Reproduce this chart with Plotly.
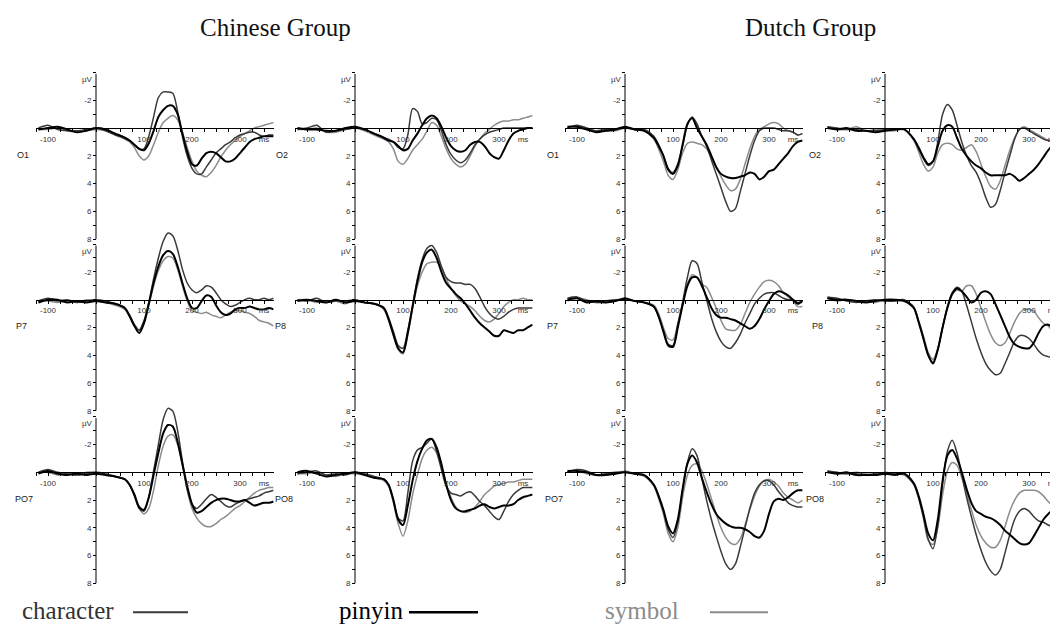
import plotly.graph_objects as go

# ---------------- data (µV, positive = downward, as in the reference) ----------------
times = [-120, -100, -80, -60, -40, -20, 0, 20, 40,
         60, 70, 80, 90, 100, 110, 120, 130, 140, 150,
         160, 170, 180, 190, 200, 210, 220, 230, 240, 250,
         260, 270, 280, 290, 300, 310, 320, 330, 340, 350,
         360, 370]

x_tick_vals = [-125, -100, -75, -50, -25, 0, 25, 50, 75, 100, 125, 150, 175, 200,
               225, 250, 275, 300, 325, 350]
x_tick_text = ["", "-100", "", "", "", "", "", "", "", "100", "", "", "", "200",
               "", "", "", "300", "", "ms"]
y_tick_vals = [-4, -3, -2, -1, 0, 1, 2, 3, 4, 5, 6, 7, 8]
y_tick_text = ["", "", "-2", "", "", "", "2", "", "4", "", "6", "", "8"]
y_unit_label = "µV"

conditions = ["character", "pinyin", "symbol"]
group_titles = ["Chinese Group", "Dutch Group"]
electrodes = [["O1", "O2", "O1", "O2"],
              ["P7", "P8", "P7", "P8"],
              ["PO7", "PO8", "PO7", "PO8"]]

# Chinese O1
cn_o1_character = [0.0, -0.2, 0.1, 0.2, 0.2, 0.1, 0.0, 0.2, 0.5,
                   0.7, 0.9, 1.2, 1.5, 1.5, 0.6, -0.8, -2.2, -2.6, -2.6,
                   -2.5, -1.2, 0.6, 2.0, 2.9, 3.3, 3.3, 2.8, 2.3, 1.8,
                   1.5, 1.2, 1.0, 0.7, 0.5, 0.4, 0.3, 0.3, 0.5, 0.6,
                   0.5, 0.5]
cn_o1_pinyin = [0.1, 0.0, -0.1, 0.1, 0.3, 0.2, 0.0, 0.1, 0.4,
                0.7, 0.9, 1.2, 1.5, 1.6, 1.1, 0.2, -0.8, -1.3, -1.6,
                -1.6, -1.0, 0.4, 1.7, 2.6, 2.7, 2.2, 1.8, 1.7, 1.8,
                2.1, 2.4, 2.4, 2.2, 1.8, 1.4, 1.0, 0.8, 0.7, 0.6,
                0.6, 0.6]
cn_o1_symbol = [0.1, 0.1, 0.0, 0.2, 0.3, 0.2, 0.1, 0.2, 0.5,
                0.8, 1.0, 1.4, 2.0, 2.3, 2.0, 1.2, 0.3, -0.4, -0.7,
                -0.9, -0.6, 0.3, 1.4, 2.4, 3.1, 3.4, 3.5, 3.2, 2.7,
                2.1, 1.6, 1.2, 0.9, 0.6, 0.4, 0.2, 0.0, -0.1, -0.2,
                -0.3, -0.4]
# Chinese O2
cn_o2_character = [0.1, 0.0, -0.2, 0.3, 0.2, 0.1, 0.0, 0.1, 0.4,
                   0.7, 0.8, 1.0, 1.4, 1.5, 0.5, -1.4, -1.2, -0.3, -0.4,
                   -0.7, -0.6, 0.2, 1.2, 1.9, 2.3, 2.5, 2.3, 1.8, 1.2,
                   0.8, 0.5, 0.3, 0.2, 0.1, 0.0, 0.0, 0.0, 0.0, 0.0,
                   0.0, 0.0]
cn_o2_pinyin = [0.0, 0.1, 0.1, 0.2, 0.2, 0.0, -0.1, 0.1, 0.4,
                0.7, 0.9, 1.0, 1.3, 1.6, 1.5, 0.9, 0.4, -0.2, -0.7,
                -0.9, -0.7, -0.1, 0.7, 1.3, 1.6, 1.7, 1.6, 1.2, 1.0,
                1.0, 1.3, 1.8, 2.1, 2.2, 1.6, 0.9, 0.4, 0.2, 0.1,
                0.0, 0.0]
cn_o2_symbol = [0.1, 0.1, 0.0, 0.3, 0.3, 0.1, 0.0, 0.2, 0.5,
                0.8, 1.0, 1.5, 2.4, 2.6, 2.2, 1.6, 1.2, 0.8, 0.2,
                -0.4, -0.2, 0.6, 1.5, 2.2, 2.6, 2.8, 2.6, 2.0, 1.3,
                0.8, 0.4, 0.1, -0.2, -0.4, -0.5, -0.5, -0.6, -0.6, -0.7,
                -0.8, -0.9]
# Dutch O1
nl_o1_character = [0.0, -0.2, 0.0, 0.2, 0.1, 0.1, 0.0, 0.1, 0.1,
                   0.6, 1.2, 2.0, 2.9, 3.2, 2.6, 1.3, -0.2, -0.8, -0.3,
                   0.6, 1.3, 2.3, 3.3, 4.3, 5.3, 6.0, 5.8, 4.6, 3.3,
                   2.0, 0.9, 0.2, 0.0, 0.0, 0.0, 0.1, 0.2, 0.2, 0.3,
                   0.5, 0.4]
nl_o1_pinyin = [-0.1, -0.1, 0.1, 0.3, 0.2, 0.1, -0.1, 0.1, 0.2,
                0.7, 1.3, 2.0, 3.0, 3.3, 2.7, 1.2, -0.3, -0.7, 0.0,
                0.6, 1.2, 2.0, 2.8, 3.3, 3.5, 3.6, 3.6, 3.5, 3.4,
                3.2, 3.3, 3.7, 3.5, 3.1, 3.0, 2.6, 2.2, 1.8, 1.3,
                1.0, 0.9]
nl_o1_symbol = [0.0, 0.0, 0.1, 0.2, 0.2, 0.2, 0.0, 0.1, 0.2,
                0.8, 1.5, 2.4, 3.4, 3.7, 3.0, 1.8, 1.1, 1.0, 1.1,
                1.2, 1.5, 2.1, 2.8, 3.5, 4.1, 4.5, 4.4, 3.7, 2.6,
                1.5, 0.6, 0.1, -0.1, -0.3, -0.4, -0.3, 0.0, 0.2, 0.3,
                0.5, 0.4]
# Dutch O2
nl_o2_character = [-0.1, 0.0, 0.1, 0.1, 0.2, 0.2, 0.1, 0.1, 0.1,
                   0.8, 1.5, 2.2, 2.7, 2.4, 1.0, -1.0, -1.7, -1.3, -0.2,
                   1.0, 2.0, 2.7, 3.2, 4.0, 5.0, 5.7, 5.5, 4.5, 3.2,
                   2.0, 0.8, 0.1, 0.0, 0.2, 0.4, 0.6, 0.8, 0.9, 0.9,
                   0.8, 0.7]
nl_o2_pinyin = [0.0, 0.1, 0.0, 0.2, 0.2, 0.3, 0.2, 0.1, 0.1,
                0.8, 1.4, 2.1, 2.6, 2.4, 1.3, 0.2, -0.2, -0.1, 0.7,
                1.5, 2.0, 2.4, 2.7, 2.9, 3.2, 3.4, 3.4, 3.4, 3.4,
                3.3, 3.5, 3.8, 3.6, 3.3, 3.0, 2.6, 2.1, 1.6, 1.2,
                1.0, 0.9]
nl_o2_symbol = [-0.1, 0.1, 0.1, -0.1, 0.2, 0.1, 0.2, 0.2, 0.1,
                0.9, 1.7, 2.6, 3.1, 2.8, 1.8, 1.2, 1.1, 1.2, 1.5,
                1.6, 1.4, 1.2, 1.7, 2.6, 3.5, 4.2, 4.4, 3.8, 2.7,
                1.6, 0.7, 0.1, -0.1, 0.1, 0.3, 0.5, 0.7, 0.9, 1.0,
                0.9, 0.7]
# Chinese P7
cn_p7_character = [0.1, -0.1, 0.1, 0.0, 0.2, 0.1, 0.0, 0.1, 0.3,
                   0.6, 1.1, 1.8, 2.2, 1.5, 0.2, -1.5, -3.0, -4.2, -4.8,
                   -4.6, -3.6, -2.2, -1.2, -0.7, -0.5, -0.7, -1.0, -0.9, -0.5,
                   0.0, 0.3, 0.5, 0.4, 0.2, 0.0, -0.1, 0.0, 0.0, -0.1,
                   0.0, -0.1]
cn_p7_pinyin = [0.2, 0.0, 0.0, 0.2, 0.1, 0.2, 0.1, 0.2, 0.3,
                0.6, 1.2, 1.9, 2.4, 1.7, 0.3, -1.2, -2.4, -3.2, -3.5,
                -3.3, -2.4, -1.2, -0.1, 0.6, 0.6, 0.1, -0.3, -0.2, 0.4,
                0.9, 1.1, 1.0, 0.7, 0.6, 0.6, 0.5, 0.6, 0.7, 0.7,
                0.6, 0.7]
cn_p7_symbol = [0.1, 0.1, 0.2, 0.1, 0.2, 0.0, 0.1, 0.2, 0.4,
                0.7, 1.2, 1.8, 2.2, 1.6, 0.4, -1.0, -2.1, -2.8, -3.1,
                -3.0, -2.2, -1.0, 0.1, 0.8, 0.9, 1.0, 0.9, 1.1, 1.2,
                1.3, 1.1, 0.9, 0.8, 0.8, 0.9, 1.0, 1.2, 1.5, 1.6,
                1.7, 1.9]
# Chinese P8
cn_p8_character = [0.0, 0.1, -0.1, 0.2, 0.1, 0.1, 0.0, 0.2, 0.3,
                   0.6, 1.3, 2.3, 3.3, 3.5, 2.2, 0.4, -1.5, -2.9, -3.7,
                   -3.9, -3.4, -2.4, -1.6, -1.3, -1.2, -1.2, -1.1, -1.1, -0.8,
                   -0.2, 0.5, 1.0, 1.3, 1.4, 1.2, 0.9, 0.7, 0.6, 0.6,
                   0.6, 0.6]
cn_p8_pinyin = [0.1, 0.0, 0.1, 0.2, 0.0, 0.2, 0.1, 0.2, 0.3,
                0.6, 1.4, 2.5, 3.5, 3.8, 2.4, 0.5, -1.3, -2.7, -3.4,
                -3.6, -3.0, -2.0, -1.2, -0.8, -0.4, -0.1, 0.3, 0.8, 1.3,
                1.7, 2.0, 2.3, 2.6, 2.6, 2.2, 2.3, 2.4, 2.2, 2.2,
                2.0, 1.8]
cn_p8_symbol = [0.0, 0.0, 0.2, 0.1, 0.1, 0.3, 0.0, 0.2, 0.3,
                0.7, 1.5, 2.6, 3.6, 3.9, 2.5, 0.6, -1.0, -2.0, -2.6,
                -2.7, -2.7, -2.3, -1.5, -0.8, -0.3, 0.1, 0.3, 0.5, 0.8,
                1.2, 1.5, 1.6, 1.4, 1.0, 0.5, 0.2, 0.0, 0.0, -0.1,
                0.0, 0.0]
# Dutch P7
nl_p7_character = [-0.1, -0.2, 0.1, 0.2, 0.1, 0.0, 0.0, 0.1, 0.2,
                   0.5, 1.2, 2.2, 3.2, 3.3, 1.8, 0.2, -1.6, -2.8, -2.6,
                   -1.3, 0.0, 1.3, 2.3, 3.0, 3.4, 3.5, 3.1, 2.5, 1.7,
                   1.0, 0.3, -0.1, -0.4, -0.5, -0.5, -0.3, -0.1, 0.0, 0.0,
                   0.2, 0.1]
nl_p7_pinyin = [0.0, -0.1, 0.2, 0.1, 0.2, 0.1, -0.1, 0.1, 0.2,
                0.5, 1.2, 2.3, 3.3, 3.4, 2.0, 0.4, -1.0, -1.6, -1.6,
                -1.0, -0.2, 0.6, 1.1, 1.3, 1.3, 1.4, 1.5, 1.7, 1.9,
                2.1, 1.9, 1.4, 0.7, 0.1, -0.4, -0.6, -0.5, -0.3, 0.0,
                0.3, 0.1]
nl_p7_symbol = [0.1, -0.1, 0.0, 0.2, 0.2, 0.1, 0.0, 0.1, 0.2,
                0.4, 1.0, 2.0, 2.8, 2.9, 1.7, 0.3, -1.1, -1.8, -1.6,
                -1.1, -0.9, -0.2, 0.6, 1.5, 2.1, 2.2, 2.2, 1.8, 1.0,
                0.2, -0.4, -0.9, -1.3, -1.4, -1.3, -1.0, -0.5, -0.2, 0.1,
                0.5, 0.5]
# Dutch P8
nl_p8_character = [-0.2, -0.1, 0.1, 0.2, 0.1, 0.0, 0.1, 0.1, 0.0,
                   0.6, 1.6, 2.8, 4.0, 4.5, 3.6, 2.0, 0.5, -0.5, -0.9,
                   -0.6, 0.4, 1.6, 2.8, 3.8, 4.6, 5.1, 5.4, 5.3, 4.6,
                   3.8, 3.0, 2.6, 2.6, 2.8, 3.2, 3.7, 4.0, 4.1, 4.2,
                   4.4, 4.5]
nl_p8_pinyin = [-0.1, 0.0, 0.0, 0.1, 0.2, 0.1, 0.0, 0.0, 0.1,
                0.6, 1.6, 2.8, 4.0, 4.6, 3.6, 2.0, 0.6, -0.4, -0.8,
                -0.6, -0.2, 0.2, 0.0, -0.5, -0.6, -0.4, 0.3, 1.1, 1.9,
                2.7, 3.2, 3.4, 3.5, 3.5, 3.1, 2.4, 1.9, 1.8, 2.0,
                2.2, 2.2]
nl_p8_symbol = [-0.1, 0.1, 0.0, 0.1, 0.1, 0.2, 0.0, 0.1, 0.1,
                0.5, 1.5, 2.6, 3.8, 4.3, 3.5, 2.0, 0.5, -0.4, -0.7,
                -0.6, -1.0, -1.0, -0.4, 0.6, 1.6, 2.5, 3.1, 3.3, 3.1,
                2.4, 1.6, 1.0, 0.7, 0.7, 0.8, 1.3, 1.7, 1.9, 2.3,
                2.5, 2.6]
# Chinese PO7
cn_po7_character = [0.0, -0.2, 0.0, 0.1, 0.2, 0.1, 0.0, 0.1, 0.3,
                    0.5, 0.9, 1.7, 2.6, 2.8, 1.8, -0.1, -2.0, -3.8, -4.6,
                    -4.4, -3.0, -0.8, 1.2, 2.3, 2.6, 2.3, 1.9, 1.6, 1.8,
                    2.1, 2.4, 2.5, 2.3, 2.1, 2.0, 1.9, 1.8, 1.7, 1.5,
                    1.4, 1.3]
cn_po7_pinyin = [0.1, -0.1, 0.1, 0.2, 0.1, 0.2, 0.1, 0.2, 0.3,
                 0.5, 0.9, 1.6, 2.5, 2.7, 1.8, 0.2, -1.4, -2.8, -3.4,
                 -3.3, -2.2, -0.6, 1.0, 2.3, 2.9, 2.8, 2.5, 2.2, 2.0,
                 1.9, 1.9, 2.0, 2.1, 2.1, 2.0, 2.2, 2.4, 2.3, 2.2,
                 2.2, 2.1]
cn_po7_symbol = [0.0, 0.0, 0.2, 0.1, 0.2, 0.0, 0.0, 0.2, 0.3,
                 0.5, 0.9, 1.7, 2.6, 3.0, 2.6, 1.3, -0.5, -1.9, -2.6,
                 -2.7, -2.0, -0.5, 1.3, 2.6, 3.3, 3.7, 3.9, 3.9, 3.7,
                 3.4, 3.2, 2.9, 2.6, 2.4, 2.1, 1.8, 1.5, 1.3, 1.2,
                 1.1, 1.1]
# Chinese PO8
cn_po8_character = [0.1, 0.0, -0.1, 0.2, 0.1, 0.2, 0.0, 0.1, 0.3,
                    0.5, 0.9, 2.0, 3.3, 3.5, 1.5, -0.8, -1.6, -1.8, -2.1,
                    -2.4, -1.5, -0.2, 1.0, 1.5, 1.6, 1.7, 1.5, 1.4, 1.7,
                    2.1, 2.4, 2.8, 3.2, 3.4, 2.8, 2.1, 1.6, 1.3, 1.1,
                    1.1, 1.1]
cn_po8_pinyin = [0.0, -0.1, 0.1, 0.3, 0.2, 0.1, 0.0, 0.2, 0.4,
                 0.5, 0.9, 2.0, 3.4, 3.8, 2.4, 0.6, -0.8, -1.7, -2.3,
                 -2.4, -1.8, -0.6, 0.9, 2.0, 2.6, 2.8, 2.8, 2.7, 2.6,
                 2.4, 2.3, 2.5, 2.6, 2.5, 2.4, 2.4, 2.3, 2.0, 1.8,
                 1.7, 1.6]
cn_po8_symbol = [0.1, 0.1, 0.0, 0.2, 0.3, 0.1, 0.1, 0.2, 0.4,
                 0.6, 1.0, 2.2, 3.7, 4.6, 3.5, 1.6, 0.2, -1.0, -1.6,
                 -1.8, -1.4, -0.4, 0.8, 1.8, 2.5, 2.8, 2.9, 2.8, 2.5,
                 2.1, 1.6, 1.3, 1.0, 0.9, 0.8, 0.7, 0.7, 0.6, 0.5,
                 0.5, 0.5]
# Dutch PO7
nl_po7_character = [0.0, -0.2, -0.1, 0.2, 0.1, 0.0, 0.0, 0.1, 0.2,
                    0.9, 1.7, 2.8, 4.1, 4.7, 3.6, 1.3, -0.7, -1.7, -1.2,
                    0.4, 2.0, 3.4, 4.6, 5.7, 6.6, 7.0, 6.6, 5.4, 4.0,
                    2.6, 1.5, 0.9, 0.6, 0.6, 0.9, 1.4, 1.8, 2.2, 2.4,
                    2.5, 2.5]
nl_po7_pinyin = [-0.1, -0.1, 0.0, 0.2, 0.2, 0.1, 0.0, 0.1, 0.2,
                 0.9, 1.7, 2.7, 3.9, 4.4, 3.4, 1.2, -0.6, -1.2, -0.7,
                 0.4, 1.4, 2.3, 3.0, 3.4, 3.7, 3.9, 4.0, 4.0, 4.1,
                 4.3, 4.6, 4.7, 4.2, 3.0, 2.1, 1.9, 2.0, 1.8, 1.5,
                 1.3, 1.3]
nl_po7_symbol = [0.0, -0.1, 0.1, 0.2, 0.1, 0.1, -0.1, 0.1, 0.3,
                 1.0, 1.9, 3.0, 4.4, 5.0, 4.0, 1.8, 0.2, -0.5, -0.6,
                 -0.1, 0.8, 1.9, 3.0, 4.0, 4.7, 5.1, 5.2, 4.8, 3.8,
                 2.7, 1.7, 1.0, 0.6, 0.5, 0.7, 1.0, 1.5, 1.8, 2.0,
                 2.2, 2.0]
# Dutch PO8
nl_po8_character = [-0.1, 0.0, 0.1, 0.1, 0.2, 0.1, 0.1, 0.1, 0.1,
                    0.8, 1.8, 3.2, 4.8, 5.5, 3.8, 0.8, -1.5, -2.3, -1.4,
                    0.2, 1.8, 3.2, 4.5, 5.6, 6.5, 7.1, 7.4, 7.0, 5.8,
                    4.5, 3.4, 2.8, 2.6, 2.8, 3.2, 3.5, 3.6, 3.8, 3.9,
                    3.8, 3.7]
nl_po8_pinyin = [0.0, 0.1, 0.0, 0.2, 0.2, 0.2, 0.1, 0.2, 0.1,
                 0.8, 1.7, 3.0, 4.4, 4.9, 3.4, 0.6, -1.2, -1.6, -1.0,
                 0.0, 1.2, 2.2, 2.8, 3.0, 3.2, 3.3, 3.5, 3.8, 4.2,
                 4.5, 4.8, 5.1, 5.2, 5.1, 4.6, 4.0, 3.4, 3.0, 2.7,
                 2.5, 2.3]
nl_po8_symbol = [-0.1, 0.1, 0.1, 0.0, 0.1, 0.2, 0.0, 0.1, 0.2,
                 0.9, 1.9, 3.3, 4.9, 5.2, 4.0, 1.6, -0.1, -0.7, -0.5,
                 0.4, 1.5, 2.7, 3.8, 4.6, 5.1, 5.4, 5.4, 4.9, 3.9,
                 2.8, 2.0, 1.5, 1.3, 1.3, 1.3, 1.4, 1.7, 2.1, 2.4,
                 2.6, 2.6]

panel_data = [
    [(cn_o1_character, cn_o1_pinyin, cn_o1_symbol), (cn_o2_character, cn_o2_pinyin, cn_o2_symbol),
     (nl_o1_character, nl_o1_pinyin, nl_o1_symbol), (nl_o2_character, nl_o2_pinyin, nl_o2_symbol)],
    [(cn_p7_character, cn_p7_pinyin, cn_p7_symbol), (cn_p8_character, cn_p8_pinyin, cn_p8_symbol),
     (nl_p7_character, nl_p7_pinyin, nl_p7_symbol), (nl_p8_character, nl_p8_pinyin, nl_p8_symbol)],
    [(cn_po7_character, cn_po7_pinyin, cn_po7_symbol), (cn_po8_character, cn_po8_pinyin, cn_po8_symbol),
     (nl_po7_character, nl_po7_pinyin, nl_po7_symbol), (nl_po8_character, nl_po8_pinyin, nl_po8_symbol)],
]

for row in panel_data:
    for trio in row:
        for s in trio:
            assert len(s) == len(times), (len(s), len(times))

# ---------------- layout geometry (pixels) ----------------
W, H = 1058, 628
X0_PIX = [88, 347, 617, 877]       # pixel x of t = 0 ms for each column
Z0_PIX = [121, 294, 468]           # pixel y of 0 µV for each row
PX_PER_MS = 0.48
PX_PER_UV = 14.0
X_RANGE = [-125, 370]
Y_RANGE = [8, -5.6]
Y_AXIS_TOP = -3.9

styles = {
    "character": dict(color="#3a3a3a", width=1.5),
    "pinyin": dict(color="#000000", width=2.0),
    "symbol": dict(color="#8c8c8c", width=1.5),
}
draw_order = [2, 0, 1]  # symbol, character, pinyin (black on top)

label_x_pix = [[15, 274, 545, 807], [13, 272, 544, 809], [16, 276, 546, 807]]

FONT = "Liberation Sans, Arial, sans-serif"
SERIF = "Liberation Serif, Times New Roman, serif"

fig = go.Figure()
layout = dict(width=W, height=H, margin=dict(l=0, r=0, t=0, b=0),
              paper_bgcolor="white", plot_bgcolor="rgba(0,0,0,0)",
              showlegend=False)
shapes = []
annotations = []

for r in range(3):
    for c in range(4):
        i = r * 4 + c + 1
        xa = "x" if i == 1 else f"x{i}"
        ya = "y" if i == 1 else f"y{i}"
        xkey = "xaxis" if i == 1 else f"xaxis{i}"
        ykey = "yaxis" if i == 1 else f"yaxis{i}"
        left = (X0_PIX[c] + X_RANGE[0] * PX_PER_MS) / W
        right = (X0_PIX[c] + X_RANGE[1] * PX_PER_MS) / W
        top_pix = Z0_PIX[r] + Y_RANGE[1] * PX_PER_UV
        bot_pix = Z0_PIX[r] + Y_RANGE[0] * PX_PER_UV
        layout[xkey] = dict(
            domain=[left, right], range=X_RANGE, anchor="free",
            position=1 - Z0_PIX[r] / H, showline=True, linecolor="#000", linewidth=1,
            ticks="outside", ticklen=3, tickwidth=1, tickcolor="#000",
            tickmode="array", tickvals=x_tick_vals, ticktext=x_tick_text,
            tickfont=dict(family=FONT, size=8, color="#333"),
            showgrid=False, zeroline=False, fixedrange=True)
        layout[ykey] = dict(
            domain=[1 - bot_pix / H, 1 - top_pix / H], range=Y_RANGE, anchor="free",
            position=X0_PIX[c] / W, showline=False,
            ticks="outside", ticklen=3, tickwidth=1, tickcolor="#000",
            tickmode="array", tickvals=y_tick_vals, ticktext=y_tick_text,
            tickfont=dict(family=FONT, size=8, color="#333"),
            showgrid=False, zeroline=False, fixedrange=True)
        # vertical (µV) axis line at t = 0
        shapes.append(dict(type="line", xref=xa, yref=ya, x0=0, x1=0,
                           y0=Y_AXIS_TOP, y1=y_tick_vals[-1],
                           line=dict(color="#000", width=1)))
        # unit label at the top of the µV axis
        annotations.append(dict(text=y_unit_label, xref="paper", yref="paper",
                                x=(X0_PIX[c] - 1) / W, y=1 - (Z0_PIX[r] - 49) / H,
                                showarrow=False, xanchor="right", yanchor="middle",
                                font=dict(family=FONT, size=8, color="#333")))
        trio = panel_data[r][c]
        for k in draw_order:
            name = conditions[k]
            fig.add_trace(go.Scatter(
                x=times, y=trio[k], mode="lines", name=name, xaxis=xa, yaxis=ya,
                line=dict(color=styles[name]["color"], width=styles[name]["width"],
                          shape="spline", smoothing=0.8),
                hoverinfo="skip"))
        annotations.append(dict(
            text=electrodes[r][c], xref="paper", yref="paper",
            x=label_x_pix[r][c] / W, y=1 - (Z0_PIX[r] + 27) / H,
            showarrow=False, xanchor="center", yanchor="middle",
            font=dict(family=FONT, size=9, color="#222")))

# group titles
for g, xc in zip(group_titles, [267, 802]):
    annotations.append(dict(text=g, xref="paper", yref="paper", x=xc / W, y=1 - 20 / H,
                            showarrow=False, xanchor="center", yanchor="middle",
                            font=dict(family=SERIF, size=25, color="#111")))

# legend (text followed by a line sample)
legend_items = [("character", 12, 125, 180), ("pinyin", 329, 401, 470), ("symbol", 595, 702, 760)]
text_colors = {"character": "#333333", "pinyin": "#000000", "symbol": "#8c8c8c"}
for name, tx, lx0, lx1 in legend_items:
    annotations.append(dict(text=name, xref="paper", yref="paper", x=tx / W, y=1 - 607 / H,
                            showarrow=False, xanchor="left", yanchor="middle",
                            font=dict(family=SERIF, size=25, color=text_colors[name])))
    shapes.append(dict(type="line", xref="paper", yref="paper", x0=lx0 / W, x1=lx1 / W,
                       y0=1 - 609 / H, y1=1 - 609 / H,
                       line=dict(color=styles[name]["color"], width=styles[name]["width"] + 0.5)))

layout["shapes"] = shapes
layout["annotations"] = annotations
fig.update_layout(**layout)
fig.write_html("out.html")
